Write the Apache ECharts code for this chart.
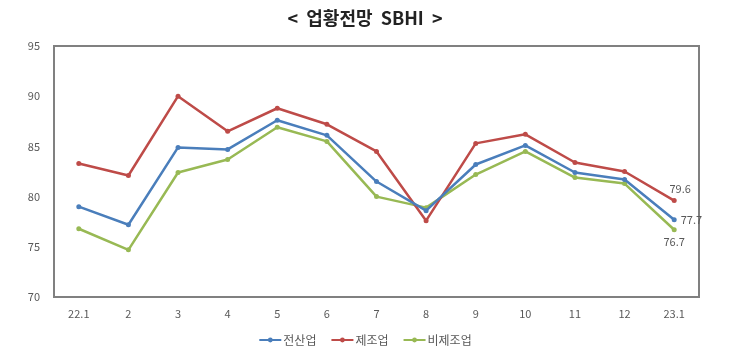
<!DOCTYPE html>
<html>
<head>
<meta charset="utf-8">
<script src="https://cdn.jsdelivr.net/npm/echarts@6/dist/echarts.min.js"></script>
<style>html,body{margin:0;padding:0;background:#fff}#c{width:730px;height:357px}</style>
</head>
<body>
<div id="c"></div>
<script>
const categories = ['22.1','2','3','4','5','6','7','8','9','10','11','12','23.1'];
const allIndustry = [79.0, 77.2, 84.9, 84.7, 87.6, 86.1, 81.5, 78.6, 83.2, 85.1, 82.4, 81.7, 77.7];
const manufacturing = [83.3, 82.1, 90.0, 86.5, 88.8, 87.2, 84.5, 77.6, 85.3, 86.2, 83.4, 82.5, 79.6];
const nonManufacturing = [76.8, 74.7, 82.4, 83.7, 86.9, 85.5, 80.0, 78.9, 82.2, 84.5, 81.9, 81.3, 76.7];
const seriesNames = ['전산업','제조업','비제조업'];
const yTicks = [70, 75, 80, 85, 90, 95];

const colors = ['#4a7ebb', '#be4b48', '#98b954'];
const labelPos = ['right', 'top', 'bottom'];
const labelOffset = [[0, 0], [6, 0], [0, 0]];
const font = '"Noto Sans CJK KR", "Noto Sans", sans-serif';

function mk(name, data, i) {
  return {
    name: name, type: 'line', data: data,
    symbol: 'circle', symbolSize: 5,
    lineStyle: { width: 2.5, color: colors[i] },
    itemStyle: { color: colors[i] },
    z: i === 1 ? 3 : (i === 0 ? 4 : 2),
    label: {
      show: true, position: labelPos[i], distance: 4, offset: labelOffset[i],
      color: '#595959', fontSize: 11, fontFamily: font,
      formatter: p => p.dataIndex === data.length - 1 ? data[p.dataIndex].toFixed(1) : ''
    }
  };
}

const chart = echarts.init(document.getElementById('c'));
chart.setOption({
  animation: false,
  title: {
    text: '<  업황전망  SBHI  >', left: 'center', top: 4,
    textStyle: { fontSize: 18, fontWeight: 'bold', color: '#222', fontFamily: '"Noto Sans CJK KR", serif' }
  },
  grid: { left: 54, right: 31, top: 46, bottom: 60, show: true, borderColor: '#808080', borderWidth: 2, backgroundColor: 'transparent' },
  legend: {
    bottom: 6, left: 'center', itemGap: 14, itemWidth: 22, itemHeight: 6,
    data: seriesNames,
    textStyle: { fontSize: 12, color: '#595959', fontFamily: font, padding: [0, 0, 0, -3] }
  },
  xAxis: {
    type: 'category', data: categories, boundaryGap: true,
    axisLine: { show: false }, axisTick: { show: false },
    axisLabel: { color: '#595959', fontSize: 11, margin: 11, fontFamily: font }
  },
  yAxis: {
    type: 'value', min: yTicks[0], max: yTicks[yTicks.length - 1], interval: 5,
    axisLine: { show: false }, axisTick: { show: false }, splitLine: { show: false },
    axisLabel: { color: '#595959', fontSize: 11, margin: 14, fontFamily: font }
  },
  series: [mk(seriesNames[0], allIndustry, 0), mk(seriesNames[1], manufacturing, 1), mk(seriesNames[2], nonManufacturing, 2)]
});
</script>
</body>
</html>
